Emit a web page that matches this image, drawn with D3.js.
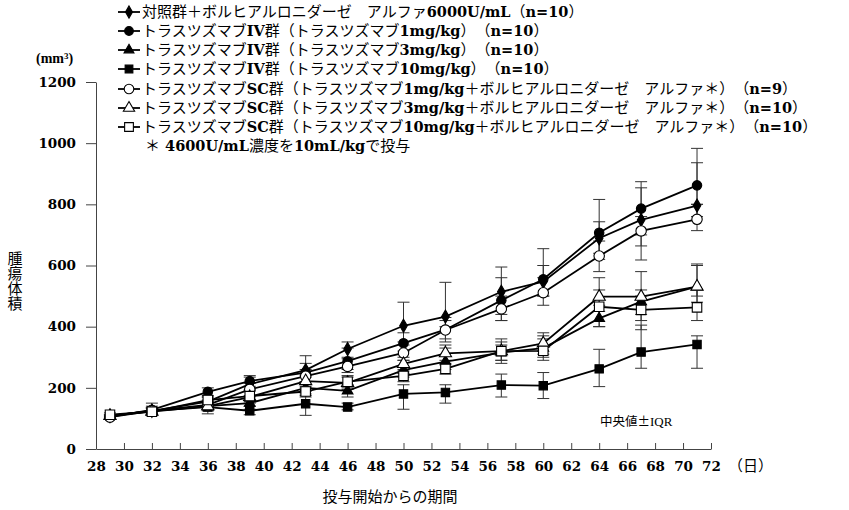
<!DOCTYPE html>
<html><head><meta charset="utf-8">
<script src="https://cdn.jsdelivr.net/npm/d3@7"></script>
<style>
body{margin:0;background:#fff;}
svg{display:block;}
</style></head>
<body>
<svg id="chart" width="849" height="510"></svg>
<script>
const days = [29,32,36,39,43,46,50,53,57,60,64,67,71];
const xTicks = [28,30,32,34,36,38,40,42,44,46,48,50,52,54,56,58,60,62,64,66,68,70,72];
const yTicks = [0,200,400,600,800,1000,1200];

const seriesNames = [
  "対照群＋ボルヒアルロニダーゼ　アルファ6000U/mL（n=10）",
  "トラスツズマブIV群（トラスツズマブ1mg/kg）　（n=10）",
  "トラスツズマブIV群（トラスツズマブ3mg/kg）　（n=10）",
  "トラスツズマブIV群（トラスツズマブ10mg/kg）　（n=10）",
  "トラスツズマブSC群（トラスツズマブ1mg/kg＋ボルヒアルロニダーゼ　アルファ＊）　（n=9）",
  "トラスツズマブSC群（トラスツズマブ3mg/kg＋ボルヒアルロニダーゼ　アルファ＊）　（n=10）",
  "トラスツズマブSC群（トラスツズマブ10mg/kg＋ボルヒアルロニダーゼ　アルファ＊）　（n=10）"
];
const noteText = "＊ 4600U/mL濃度を10mL/kgで投与";

// medians
const control = [108,125,155,212,258,327,403,433,514,547,689,749,796];
const iv1     = [105,128,187,222,250,287,346,390,486,555,707,786,862];
const iv3     = [108,125,140,150,200,190,258,286,315,330,427,482,531];
const iv10    = [108,125,137,125,148,137,180,185,209,207,262,317,342];
const sc1     = [104,125,144,195,238,270,314,389,458,511,631,713,751];
const sc3     = [108,122,140,170,222,216,278,313,320,345,498,498,531];
const sc10    = [112,122,160,173,188,220,239,262,320,321,465,455,463];
// IQR lower / upper
const controlLo = [104,118,140,195,240,300,350,400,440,500,640,700,760];
const controlHi = [112,135,170,235,280,350,480,545,560,600,743,854,936];
const iv1Lo = [100,118,170,205,235,260,320,350,420,500,620,664,800];
const iv1Hi = [110,150,200,240,305,330,380,430,595,655,816,874,983];
const iv3Lo = [104,115,125,130,180,170,235,260,290,300,400,420,480];
const iv3Hi = [112,135,155,170,220,210,290,330,340,360,470,520,600];
const iv10Lo = [104,110,115,112,110,128,130,150,170,165,204,264,264];
const iv10Hi = [112,140,150,140,175,150,210,210,245,250,326,405,370];
const sc1Lo = [100,115,130,175,220,250,290,360,420,470,580,618,714];
const sc1Hi = [110,135,160,215,260,295,340,420,500,560,680,760,800];
const sc3Lo = [104,112,125,150,200,195,255,290,290,310,450,440,500];
const sc3Hi = [112,132,155,190,245,235,300,340,350,380,560,580,605];
const sc10Lo = [106,112,140,155,170,200,220,245,280,290,400,390,420];
const sc10Hi = [118,132,175,190,205,240,260,280,360,370,520,500,520];

const series = [
  {name: seriesNames[0], v: control, lo: controlLo, hi: controlHi, shape: d3.symbolDiamond, size: 50, fill: "#000"},
  {name: seriesNames[1], v: iv1, lo: iv1Lo, hi: iv1Hi, shape: d3.symbolCircle, size: 70, fill: "#000"},
  {name: seriesNames[2], v: iv3, lo: iv3Lo, hi: iv3Hi, shape: d3.symbolTriangle, size: 50, fill: "#000"},
  {name: seriesNames[3], v: iv10, lo: iv10Lo, hi: iv10Hi, shape: d3.symbolSquare, size: 70, fill: "#000"},
  {name: seriesNames[4], v: sc1, lo: sc1Lo, hi: sc1Hi, shape: d3.symbolCircle, size: 85, fill: "#fff"},
  {name: seriesNames[5], v: sc3, lo: sc3Lo, hi: sc3Hi, shape: d3.symbolTriangle, size: 65, fill: "#fff"},
  {name: seriesNames[6], v: sc10, lo: sc10Lo, hi: sc10Hi, shape: d3.symbolSquare, size: 90, fill: "#fff"}
];

const svg = d3.select("#chart");
const x = d3.scaleLinear().domain([28,72]).range([96,711]);
const y = d3.scaleLinear().domain([0,1200]).range([449,82]);

const LATIN = "'DejaVu Serif','Liberation Serif',serif";
const LATIN2 = "'Liberation Serif','DejaVu Serif',serif";
const CJK = "'Noto Sans CJK JP','Noto Sans CJK SC',sans-serif";

function mixed(sel, str, latinFont, latinWeight, latinSize){
  const runs = str.match(/[\x20-\x7E]+|[^\x20-\x7E]+/g) || [];
  runs.forEach(r=>{
    const ascii = /^[\x20-\x7E]+$/.test(r);
    const t = sel.append("tspan")
      .attr("font-family", ascii ? (latinFont||LATIN) : CJK)
      .attr("font-weight", ascii ? (latinWeight||"bold") : "normal")
      .text(r);
    if (ascii && latinSize) t.attr("font-size", latinSize);
  });
  return sel;
}

// axes
const axisColor = "#444";
const gx = svg.append("g").attr("transform","translate(0,449)")
  .call(d3.axisBottom(x).tickValues(xTicks).tickSizeInner(-6).tickSizeOuter(0).tickPadding(12).tickFormat(d3.format("d")));
gx.select(".domain").attr("stroke",axisColor);
gx.selectAll(".tick line").attr("stroke",axisColor);
gx.selectAll(".tick text").attr("font-family",LATIN).attr("font-weight","bold").attr("font-size",13.5).attr("fill","#000");

const gy = svg.append("g").attr("transform","translate(96,0)")
  .call(d3.axisLeft(y).tickValues(yTicks).tickSize(10).tickSizeOuter(0).tickPadding(10).tickFormat(d3.format("d")));
gy.select(".domain").attr("stroke",axisColor);
gy.selectAll(".tick line").attr("stroke",axisColor);
gy.selectAll(".tick text").attr("font-family",LATIN).attr("font-weight","bold").attr("font-size",13.5).attr("fill","#000");

// error bars
const eb = svg.append("g").attr("stroke","#333").attr("stroke-width",1).attr("fill","none");
series.forEach(s=>{
  days.forEach((d,i)=>{
    const cx = x(d);
    eb.append("line").attr("x1",cx).attr("x2",cx).attr("y1",y(s.lo[i])).attr("y2",y(s.hi[i]));
    eb.append("line").attr("x1",cx-6).attr("x2",cx+6).attr("y1",y(s.lo[i])).attr("y2",y(s.lo[i]));
    eb.append("line").attr("x1",cx-6).attr("x2",cx+6).attr("y1",y(s.hi[i])).attr("y2",y(s.hi[i]));
  });
});

// lines
const line = d3.line().x((d,i)=>x(days[i])).y(d=>y(d));
series.forEach(s=>{
  svg.append("path").attr("d",line(s.v)).attr("fill","none").attr("stroke","#000").attr("stroke-width",1.8);
});
// markers
series.forEach(s=>{
  const sym = d3.symbol().type(s.shape).size(s.size);
  svg.append("g").selectAll("path").data(s.v).join("path")
    .attr("d",sym)
    .attr("transform",(d,i)=>`translate(${x(days[i])},${y(d)})`)
    .attr("fill",s.fill).attr("stroke","#000").attr("stroke-width",1.1);
});

// legend
const leg = svg.append("g");
const rowY = [12,31,50,69,89,108,127];
series.forEach((s,i)=>{
  const yy = rowY[i];
  leg.append("line").attr("x1",118).attr("x2",140).attr("y1",yy).attr("y2",yy).attr("stroke","#000").attr("stroke-width",1.8);
  leg.append("path").attr("d",d3.symbol().type(s.shape).size(s.size*0.85)())
    .attr("transform",`translate(129,${yy})`).attr("fill",s.fill).attr("stroke","#000").attr("stroke-width",1.1);
  mixed(leg.append("text").attr("x",142).attr("y",yy).attr("dy","0.36em").attr("font-size",15).attr("fill","#000"), s.name, LATIN, "bold", 14.5);
});
mixed(leg.append("text").attr("x",145).attr("y",146).attr("dy","0.36em").attr("font-size",15).attr("fill","#000"), noteText, LATIN, "bold", 14.5);

// unit label
const mmText = svg.append("text").attr("x",36).attr("y",58).attr("dy","0.36em").attr("font-size",14).attr("font-family",LATIN2).attr("font-weight","bold");
mmText.append("tspan").text("(mm");
mmText.append("tspan").attr("font-size",9).attr("dy","-0.5em").text("3");
mmText.append("tspan").attr("dy","0.3em").text(")");

// y label (vertical)
svg.append("text").attr("x",15).attr("y",281)
  .attr("font-family",CJK).attr("font-size",15).attr("text-anchor","middle")
  .style("writing-mode","vertical-rl").style("glyph-orientation-vertical","0")
  .text("腫瘍体積");

svg.append("text").attr("x",390).attr("y",497).attr("dy","0.36em").attr("text-anchor","middle")
  .attr("font-family",CJK).attr("font-size",15).text("投与開始からの期間");
svg.append("text").attr("x",728).attr("y",466).attr("dy","0.36em")
  .attr("font-family",CJK).attr("font-size",15).text("（日）");
mixed(svg.append("text").attr("x",600).attr("y",421).attr("dy","0.36em").attr("font-size",12.5), "中央値±IQR", LATIN2, "normal", 13);
</script>
</body></html>
